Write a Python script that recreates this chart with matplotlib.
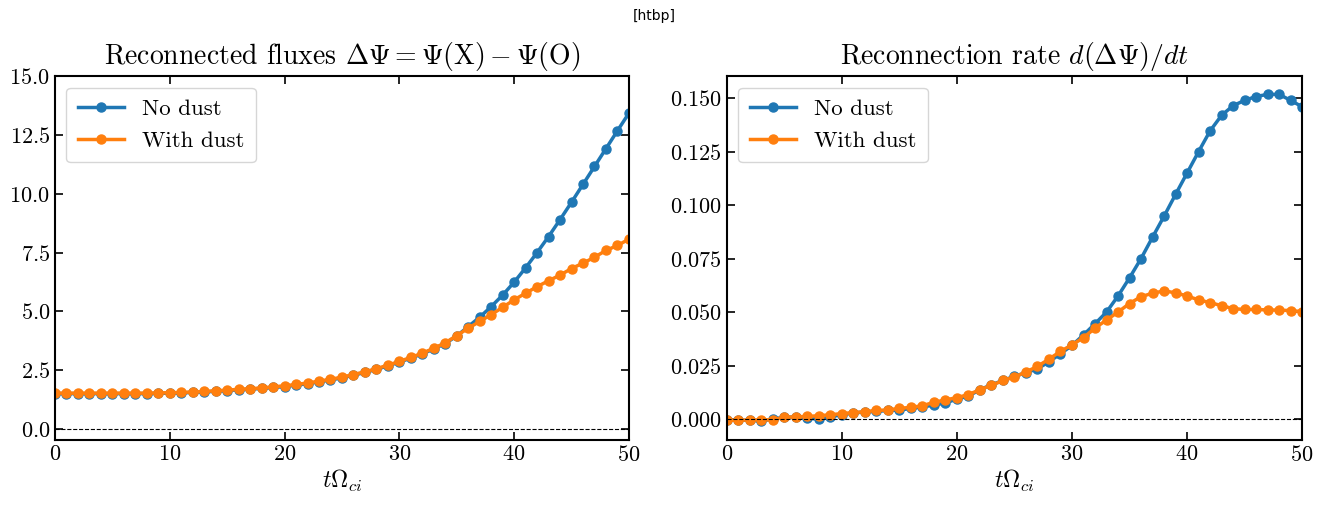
import numpy as np
import matplotlib
matplotlib.use('Agg')
import matplotlib.pyplot as plt

plt.rcParams['font.family'] = 'serif'
plt.rcParams['font.serif'] = ['cmr10']
plt.rcParams['mathtext.fontset'] = 'cm'
plt.rcParams['axes.formatter.use_mathtext'] = True

# time axis
t = np.arange(0, 51)

# Reconnected flux, no dust / with dust
flux_nodust = [1.50, 1.50, 1.50, 1.50, 1.50, 1.50, 1.50, 1.50, 1.50, 1.51,
               1.52, 1.53, 1.55, 1.57, 1.60, 1.63, 1.66, 1.69, 1.72, 1.76,
               1.80, 1.86, 1.92, 2.00, 2.08, 2.17, 2.28, 2.40, 2.53, 2.68,
               2.84, 3.01, 3.19, 3.40, 3.63, 3.95, 4.35, 4.75, 5.20, 5.69,
               6.24, 6.85, 7.50, 8.18, 8.90, 9.64, 10.40, 11.16, 11.92, 12.68,
               13.43]
flux_dust = [1.52, 1.52, 1.52, 1.52, 1.52, 1.52, 1.52, 1.52, 1.52, 1.53,
             1.54, 1.55, 1.57, 1.59, 1.62, 1.65, 1.68, 1.71, 1.74, 1.79,
             1.83, 1.89, 1.95, 2.03, 2.11, 2.20, 2.31, 2.43, 2.56, 2.71,
             2.87, 3.04, 3.22, 3.43, 3.66, 3.97, 4.28, 4.57, 4.86, 5.17,
             5.49, 5.77, 6.05, 6.30, 6.54, 6.82, 7.05, 7.30, 7.59, 7.80,
             8.07]

# Reconnection rate, no dust / with dust
rate_nodust = [-0.0006, -0.0006, -0.0006, -0.0010, 0.0000, 0.0008, 0.0009, 0.0003, 0.0000, 0.0010,
               0.0020, 0.0028, 0.0033, 0.0035, 0.0040, 0.0041, 0.0050, 0.0056, 0.0065, 0.0075,
               0.0093, 0.0107, 0.0137, 0.0160, 0.0180, 0.0200, 0.0216, 0.0235, 0.0267, 0.0305,
               0.0344, 0.0393, 0.0445, 0.0500, 0.0575, 0.0660, 0.0750, 0.0850, 0.0948, 0.1050,
               0.1150, 0.1250, 0.1347, 0.1420, 0.1465, 0.1490, 0.1508, 0.1518, 0.1518, 0.1490,
               0.1460]
rate_dust = [-0.0006, -0.0006, -0.0005, -0.0004, -0.0004, 0.0008, 0.0010, 0.0012, 0.0015, 0.0020,
             0.0025, 0.0030, 0.0034, 0.0040, 0.0042, 0.0050, 0.0054, 0.0062, 0.0078, 0.0089,
             0.0100, 0.0114, 0.0137, 0.0157, 0.0180, 0.0196, 0.0220, 0.0246, 0.0280, 0.0316,
             0.0347, 0.0380, 0.0425, 0.0463, 0.0500, 0.0540, 0.0572, 0.0588, 0.0599, 0.0590,
             0.0575, 0.0557, 0.0544, 0.0530, 0.0516, 0.0512, 0.0512, 0.0510, 0.0509, 0.0507,
             0.0502]

fig = plt.figure(figsize=(13.41, 5.08), dpi=100)
ax1 = fig.add_axes([0.041, 0.134, 0.428, 0.716])
ax2 = fig.add_axes([0.542, 0.134, 0.429, 0.716])

style = dict(marker='o', markersize=6.5, linewidth=2.5)

ax1.plot(t, flux_nodust, color='#1f77b4', label='No dust', **style)
ax1.plot(t, flux_dust, color='#ff7f0e', label='With dust', **style)
ax1.axhline(0, color='black', linestyle='--', linewidth=0.8)
ax1.set_xlim(0, 50)
ax1.set_ylim(-0.47, 15)
ax1.set_yticks(np.arange(0, 15.1, 2.5))
ax1.set_title(r'Reconnected fluxes $\Delta\Psi = \Psi(\mathrm{X}) - \Psi(\mathrm{O})$', fontsize=20, pad=9)

ax2.plot(t, rate_nodust, color='#1f77b4', label='No dust', **style)
ax2.plot(t, rate_dust, color='#ff7f0e', label='With dust', **style)
ax2.axhline(0, color='black', linestyle='--', linewidth=0.8)
ax2.set_xlim(0, 50)
ax2.set_ylim(-0.0098, 0.1603)
ax2.set_yticks(np.arange(0, 0.151, 0.025))
ax2.set_title(r'Reconnection rate $d(\Delta\Psi)/dt$', fontsize=20, pad=9)

for ax in (ax1, ax2):
    ax.set_xlabel(r'$t\Omega_{ci}$', fontsize=17, labelpad=2)
    ax.set_xticks(np.arange(0, 51, 10))
    ax.tick_params(direction='in', top=True, right=True, labelsize=16, length=6, width=1.2)
    for s in ax.spines.values():
        s.set_linewidth(1.5)
    ax.legend(loc='upper left', fontsize=16.5, fancybox=True, framealpha=0.8, borderpad=0.5)

fig.text(0.488, 0.968, '[htbp]', family='DejaVu Sans', fontsize=10, ha='center', va='center')

plt.savefig('out.png', dpi=100)
